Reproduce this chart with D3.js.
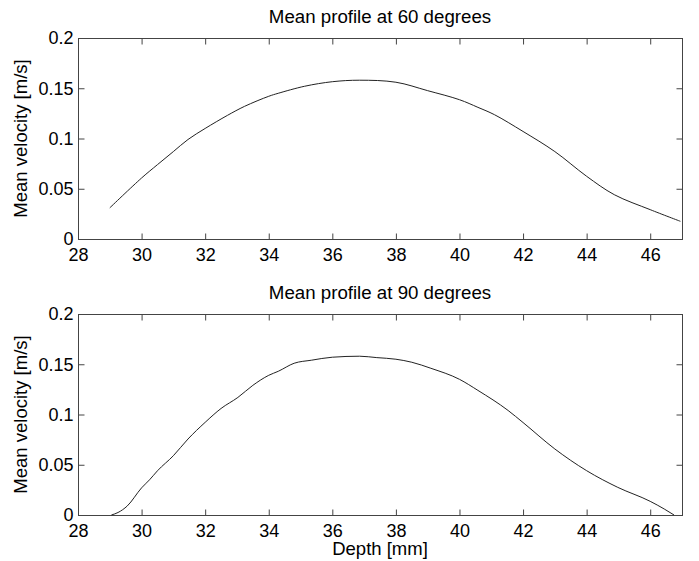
<!DOCTYPE html>
<html>
<head>
<meta charset="utf-8">
<script src="https://cdn.jsdelivr.net/npm/d3@7"></script>
<style>
  body { margin: 0; background: #fff; }
  text { font-family: "Liberation Sans", Arial, Helvetica, sans-serif; fill: #000; }
</style>
</head>
<body>
<div id="chart"></div>
<script>
// values
const depth60 = [29.0, 30.0, 30.5, 31.0, 31.46, 32.0, 32.7, 33.24, 34.0, 34.3, 35.13, 36.0, 36.86, 38.0, 39.0, 40.0, 40.58, 41.1, 42.0, 43.0, 44.0, 44.87, 46.0, 46.95];
const vel60   = [0.031, 0.0607, 0.074, 0.087, 0.099, 0.110, 0.123, 0.132, 0.142, 0.145, 0.152, 0.1565, 0.158, 0.156, 0.1476, 0.1386, 0.131, 0.1237, 0.107, 0.087, 0.0624, 0.0441, 0.0292, 0.0176];

const depth90 = [29.05, 29.26, 29.55, 30.0, 30.25, 30.5, 31.0, 31.46, 32.0, 32.5, 33.03, 33.5, 34.0, 34.3, 34.8, 35.34, 36.0, 36.86, 37.4, 38.0, 38.5, 39.1, 40.0, 40.58, 41.53, 42.0, 43.0, 44.0, 44.98, 46.0, 46.44, 46.75];
const vel90   = [0, 0.0025, 0.009, 0.027, 0.035, 0.044, 0.059, 0.0756, 0.0922, 0.106, 0.117, 0.129, 0.139, 0.143, 0.151, 0.154, 0.157, 0.158, 0.1566, 0.155, 0.152, 0.146, 0.135, 0.124, 0.104, 0.092, 0.0657, 0.0441, 0.0275, 0.0136, 0.006, 0];

const xTicks = [28, 30, 32, 34, 36, 38, 40, 42, 44, 46];
const yTicks = [0, 0.05, 0.1, 0.15, 0.2];
const titles = ["Mean profile at 60 degrees", "Mean profile at 90 degrees"];

const W = 699, H = 561;
const left = 78, right = 682;
const panels = [
  { top: 38, bottom: 239, depth: depth60, vel: vel60, title: titles[0] },
  { top: 314, bottom: 515, depth: depth90, vel: vel90, title: titles[1] }
];

const svg = d3.select("#chart").append("svg")
  .attr("width", W).attr("height", H);

const x = d3.scaleLinear().domain([28, 47]).range([left, right]);
const fmt = d => d === 0 ? "0" : String(+d.toFixed(2));
const axisColor = "#444";

panels.forEach((p, i) => {
  const y = d3.scaleLinear().domain([0, 0.2]).range([p.bottom, p.top]);
  const g = svg.append("g");

  // box
  g.append("rect")
    .attr("x", left + 0.5).attr("y", p.top + 0.5)
    .attr("width", right - left).attr("height", p.bottom - p.top)
    .attr("fill", "none").attr("stroke", axisColor);

  const xb = g.append("g").attr("transform", `translate(0,${p.bottom + 0.5})`)
    .call(d3.axisBottom(x).tickValues(xTicks).tickSize(-6).tickPadding(8).tickFormat(d3.format("d")));
  const xt = g.append("g").attr("transform", `translate(0,${p.top + 0.5})`)
    .call(d3.axisTop(x).tickValues(xTicks).tickSize(-6).tickFormat(""));
  const yl = g.append("g").attr("transform", `translate(${left + 0.5},0)`)
    .call(d3.axisLeft(y).tickValues(yTicks).tickSize(-6).tickPadding(5).tickFormat(fmt));
  const yr = g.append("g").attr("transform", `translate(${right + 0.5},0)`)
    .call(d3.axisRight(y).tickValues(yTicks).tickSize(-6).tickFormat(""));

  [xb, xt, yl, yr].forEach(a => {
    a.select(".domain").remove();
    a.selectAll(".tick line").attr("stroke", axisColor);
    a.selectAll(".tick text").attr("font-size", 18).attr("fill", "#000")
      .style("font-family", "'Liberation Sans', Arial, sans-serif");
  });
  xb.selectAll(".tick text").attr("dy", "0.71em").attr("y", 9);

  const line = d3.line()
    .x((d, k) => x(p.depth[k]))
    .y(d => y(d))
    .curve(i === 0 ? d3.curveCatmullRom.alpha(0.5) : d3.curveMonotoneX);

  g.append("path")
    .datum(p.vel)
    .attr("d", line)
    .attr("fill", "none")
    .attr("stroke", "#222")
    .attr("stroke-width", 1);

  g.append("text")
    .attr("x", (left + right) / 2)
    .attr("y", p.top - 15)
    .attr("text-anchor", "middle")
    .attr("font-size", 18.7)
    .text(p.title);

  g.append("text")
    .attr("transform", `translate(27,${(p.top + p.bottom) / 2}) rotate(-90)`)
    .attr("text-anchor", "middle")
    .attr("font-size", 18.5)
    .text("Mean velocity [m/s]");
});

svg.append("text")
  .attr("x", (left + right) / 2)
  .attr("y", 555)
  .attr("text-anchor", "middle")
  .attr("font-size", 18.5)
  .text("Depth [mm]");
</script>
</body>
</html>
